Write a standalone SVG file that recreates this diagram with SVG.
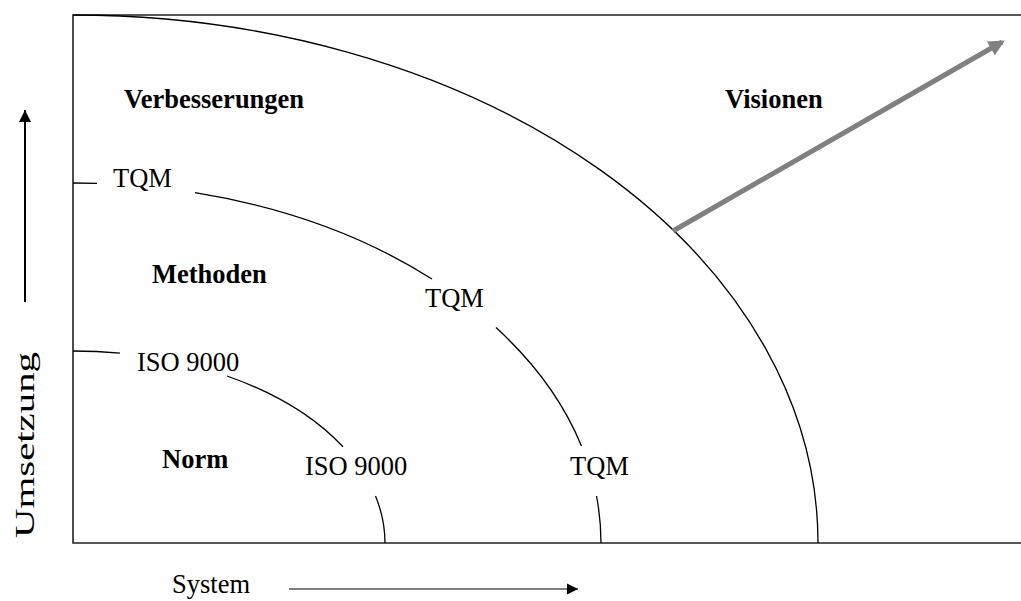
<svg xmlns="http://www.w3.org/2000/svg" width="1021" height="601" viewBox="0 0 1021 601">
<style>
.t{font-family:"Liberation Serif","Times New Roman",serif;font-size:26.5px;fill:#000}
.b{font-weight:bold}
.arc{fill:none;stroke:#000;stroke-width:1.3}
.frame{fill:none;stroke:#222;stroke-width:1.6}
</style>
<defs>
<marker id="ah" viewBox="0 0 10 10" refX="10" refY="5" markerWidth="11" markerHeight="13" markerUnits="userSpaceOnUse" orient="auto">
<path d="M0,0 L10,5 L0,10 Z" fill="#000"/>
</marker>
<marker id="ahv" viewBox="0 0 10 10" refX="10" refY="5" markerWidth="12" markerHeight="14" markerUnits="userSpaceOnUse" orient="auto">
<path d="M0,0 L10,5 L0,10 Z" fill="#000"/>
</marker>
<marker id="ahg" viewBox="0 0 10 10" refX="8" refY="5" markerWidth="18" markerHeight="16" markerUnits="userSpaceOnUse" orient="auto">
<path d="M0,0 L10,5 L0,10 Z" fill="#808080"/>
</marker>
</defs>
<g id="frame">
<polyline class="frame" points="1021,15 73,15 73,543 1021,543"/>
</g>
<g id="connectors">
<path id="outer-arc" class="arc" d="M73,15 A745,528 0 0 1 818,543"/>
<g id="tqm-arc">
<path class="arc" d="M73,183 A528,360 0 0 1 97,183.4"/>
<path class="arc" d="M195,192.7 A528,360 0 0 1 432,279"/>
<path class="arc" d="M496,327.6 A528,360 0 0 1 581.5,446"/>
<path class="arc" d="M596.5,496 A528,360 0 0 1 601,543"/>
</g>
<g id="iso-arc">
<path class="arc" d="M73,351 A312,192 0 0 1 120,353.2"/>
<path class="arc" d="M227,376 A312,192 0 0 1 343,446.8"/>
<path class="arc" d="M375.5,496 A312,192 0 0 1 385,543"/>
</g>
<line id="vision-arrow" x1="673" y1="231" x2="1002" y2="42" stroke="#808080" stroke-width="5" marker-end="url(#ahg)"/>
<line id="y-axis" x1="25" y1="302" x2="25" y2="110" stroke="#000" stroke-width="2" marker-end="url(#ahv)"/>
<line id="x-axis" x1="289" y1="589" x2="578" y2="589" stroke="#000" stroke-width="1.2" marker-end="url(#ah)"/>
</g>
<g id="verbesserungen"><text class="t b" x="124" y="108">Verbesserungen</text></g>
<g id="visionen"><text class="t b" x="725" y="108">Visionen</text></g>
<g id="methoden"><text class="t b" x="152" y="283">Methoden</text></g>
<g id="norm"><text class="t b" x="162" y="468">Norm</text></g>
<g id="tqm1"><text class="t" x="113" y="187">TQM</text></g>
<g id="tqm2"><text class="t" x="425" y="307">TQM</text></g>
<g id="tqm3"><text class="t" x="570" y="475">TQM</text></g>
<g id="iso1"><text class="t" x="137" y="371">ISO 9000</text></g>
<g id="iso2"><text class="t" x="305" y="475">ISO 9000</text></g>
<g id="system"><text class="t" x="172" y="593">System</text></g>
<g id="umsetzung"><text class="t" style="font-size:28px" transform="translate(34,538) rotate(-90)" textLength="186" lengthAdjust="spacingAndGlyphs">Umsetzung</text></g>
</svg>
